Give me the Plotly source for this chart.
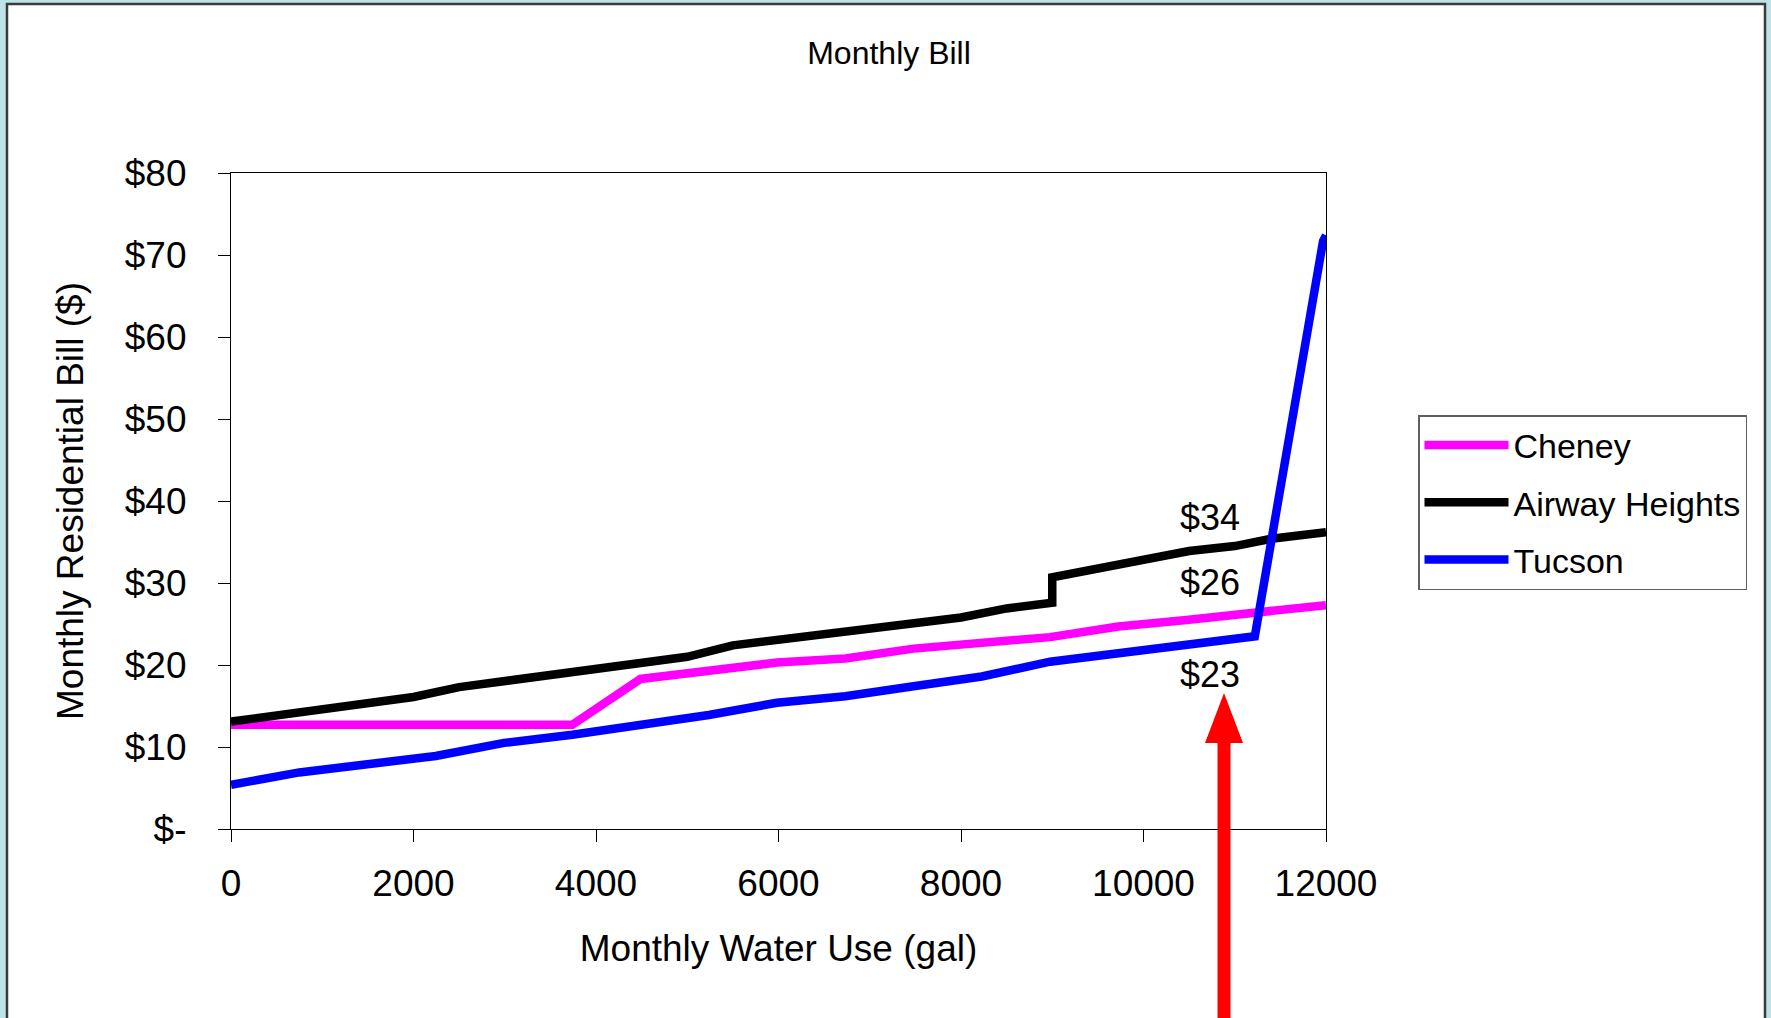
import plotly.graph_objects as go

# ---- data ----
cheney_gal = [0, 3740, 4488, 5236, 5984, 6732, 7480, 8976, 9724, 10472, 11220, 12000]
cheney_bill = [12.7, 12.7, 18.3, 19.3, 20.3, 20.8, 22.0, 23.4, 24.7, 25.5, 26.5, 27.3]

airway_gal = [0, 2000, 2500, 5000, 5500, 8000, 8500, 9000, 9000, 9500, 10500, 11000, 11400, 12000]
airway_bill = [13.1, 16.1, 17.3, 21.0, 22.4, 25.8, 26.9, 27.6, 30.7, 31.7, 33.9, 34.5, 35.4, 36.2]

tucson_gal = [0, 748, 2244, 2992, 3740, 4488, 5236, 5984, 6732, 7480, 8228, 8976, 9724, 10472, 11220, 11968, 12000]
tucson_bill = [5.4, 6.9, 8.9, 10.5, 11.5, 12.7, 13.9, 15.4, 16.2, 17.4, 18.6, 20.4, 21.4, 22.5, 23.5, 71.7, 72.4]

x_ticks = [0, 2000, 4000, 6000, 8000, 10000, 12000]
x_tick_text = ["0", "2000", "4000", "6000", "8000", "10000", "12000"]
y_ticks = [0, 10, 20, 30, 40, 50, 60, 70, 80]
y_tick_text = ["$-", "$10", "$20", "$30", "$40", "$50", "$60", "$70", "$80"]

label_text = ["$34", "$26", "$23"]
label_gal = [10729, 10729, 10729]
label_bill = [38.0, 30.1, 18.9]

FONT = "Liberation Sans, Arial, sans-serif"

# ---- layout geometry (pixels) ----
W, H = 1771, 1018
L, R, T, B = 231, 1326, 173, 829
PW, PH = R - L, B - T


def px(xp):
    return (xp - L) / PW


def py(yp):
    return (B - yp) / PH


fig = go.Figure()
series = [
    ("Cheney", cheney_gal, cheney_bill, "#ff00ff"),
    ("Airway Heights", airway_gal, airway_bill, "#000000"),
    ("Tucson", tucson_gal, tucson_bill, "#0000ff"),
]
for name, xs, ys, col in series:
    fig.add_trace(go.Scatter(x=xs, y=ys, mode="lines", name=name,
                             legendgroup=name,
                             line=dict(color=col, width=8.5)))

for t, xv, yv in zip(label_text, label_gal, label_bill):
    fig.add_annotation(x=xv, y=yv, xref="x", yref="y", text=t, showarrow=False,
                       font=dict(family=FONT, size=36, color="black"),
                       xanchor="center", yanchor="middle")

shapes = []
# white panel with dark border
shapes.append(dict(type="rect", xref="paper", yref="paper", layer="below",
                   x0=px(7), x1=px(1765), y0=py(1030), y1=py(4),
                   fillcolor="white", line=dict(color="#3a3a3a", width=2.5)))
# red arrow: shaft + head
ax_c = 1224
shapes.append(dict(type="rect", xref="paper", yref="paper", layer="above",
                   x0=px(ax_c - 6.5), x1=px(ax_c + 6.5), y0=py(1030), y1=py(740),
                   fillcolor="#ff0000", line=dict(width=0)))
shapes.append(dict(type="path", xref="paper", yref="paper", layer="above",
                   path="M {:.5f} {:.5f} L {:.5f} {:.5f} L {:.5f} {:.5f} Z".format(
                       px(ax_c - 19), py(743), px(ax_c + 19), py(743), px(ax_c), py(693)),
                   fillcolor="#ff0000", line=dict(width=0)))

fig.update_layout(
    width=W, height=H,
    margin=dict(l=L, r=W - R, t=T, b=H - B, pad=0),
    paper_bgcolor="#bde3e6",
    plot_bgcolor="white",
    font=dict(family=FONT, color="black"),
    title=dict(text="Monthly Bill", x=px(889), xref="paper", xanchor="center",
               y=1 - 53 / H, yref="container", yanchor="middle",
               font=dict(family=FONT, size=32, color="black")),
    shapes=shapes,
    showlegend=True,
    legend=dict(x=px(1418), y=py(415), xanchor="left", yanchor="top",
                bgcolor="white", bordercolor="#606060", borderwidth=1.5,
                font=dict(family=FONT, size=34, color="black"),
                tracegroupgap=10, itemwidth=84),
)

fig.update_xaxes(range=[0, 12000], tickvals=x_ticks, ticktext=x_tick_text,
                 ticks="outside", ticklen=12,
                 tickcolor="black", tickwidth=1.2, showline=True, linecolor="black",
                 linewidth=1.2, mirror=True, showgrid=False, zeroline=False,
                 tickfont=dict(family=FONT, size=37, color="black"),
                 ticklabelstandoff=9,
                 title=dict(text="Monthly Water Use (gal)", standoff=32,
                            font=dict(family=FONT, size=37, color="black")))
fig.update_yaxes(range=[0, 80], tickvals=y_ticks, ticktext=y_tick_text, ticks="outside",
                 ticklen=12, tickcolor="black", tickwidth=1.2, showline=True,
                 linecolor="black", linewidth=1.2, mirror=True, showgrid=False,
                 zeroline=False,
                 tickfont=dict(family=FONT, size=37, color="black"),
                 ticklabelstandoff=24,
                 title=dict(text="Monthly Residential Bill ($)", standoff=29,
                            font=dict(family=FONT, size=37, color="black")))

fig.write_html("out.html")
